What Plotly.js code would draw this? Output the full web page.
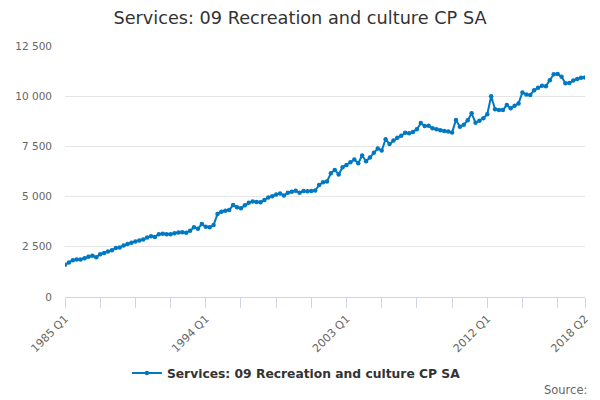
<!DOCTYPE html>
<html>
<head>
<meta charset="utf-8">
<script src="https://cdn.plot.ly/plotly-3.0.1.min.js"></script>
<style>
  html, body { margin: 0; padding: 0; background: #fff; }
  #graph { width: 600px; height: 400px; }
</style>
</head>
<body>
<div id="graph"></div>
<script>
/* ----------------Data---------------- */

var seriesName = 'Services: 09 Recreation and culture CP SA';

// quarterly labels, 1985 Q1 .. 2018 Q2
var quarters = [];
for (var yr = 1985; yr <= 2018; yr++) {
    for (var q = 1; q <= 4; q++) {
        if (yr === 2018 && q > 2) break;
        quarters.push(yr + ' Q' + q);
    }
}

// values, one per quarter
var values = [
    1600, 1720, 1830, 1870, 1870, 1930, 2000, 2060, 1980, 2130,
    2190, 2260, 2330, 2440, 2470, 2560, 2640, 2700, 2770, 2810,
    2860, 2960, 3030, 2990, 3130, 3150, 3130, 3120, 3180, 3210,
    3220, 3200, 3300, 3470, 3400, 3630, 3500, 3470, 3580, 4130,
    4250, 4300, 4330, 4580, 4470, 4420, 4570, 4690, 4750, 4730,
    4720, 4830, 4960, 5020, 5100, 5160, 5050, 5190, 5240, 5290,
    5190, 5280, 5270, 5280, 5300, 5580, 5710, 5750, 6160, 6330,
    6100, 6460, 6570, 6710, 6850, 6660, 7050, 6760, 6950, 7180,
    7400, 7290, 7850, 7620, 7790, 7930, 8030, 8180, 8150, 8220,
    8350, 8660, 8520, 8530, 8400, 8360, 8310, 8270, 8240, 8190,
    8820, 8480, 8580, 8800, 9150, 8680, 8780, 8900, 9100, 10000,
    9350, 9310, 9310, 9560, 9400, 9520, 9640, 10190, 10080, 10060,
    10300, 10420, 10520, 10500, 10800, 11090, 11100, 10970, 10650, 10660,
    10780, 10860, 10920, 10930
];

// tick marks every 9 quarters plus the last one, labels on some of them
var tickPositions = [0, 9, 18, 27, 36, 45, 54, 63, 72, 81, 90, 99, 108, 117, 126, 133];
var labelledTicks = ['1985 Q1', '1994 Q1', '2003 Q1', '2012 Q1', '2018 Q2'];

var yTicks = [0, 2500, 5000, 7500, 10000, 12500];

/* ----------------Graph Setup---------------- */

var blue = 'rgb(0, 121, 194)';
var fontFam = 'DejaVu Sans, Verdana, sans-serif';

var tickVals = tickPositions.map(function(i) { return quarters[i]; });
var tickText = tickVals.map(function(lab) {
    return labelledTicks.indexOf(lab) >= 0 ? lab : '';
});

var trace0 = {
    x: quarters,
    y: values,
    type: 'scatter',
    mode: 'lines+markers',
    name: seriesName,
    line: { color: blue, width: 2 },
    marker: { color: blue, size: 4.5, symbol: 'circle' }
};

var layout = {
    width: 600,
    height: 400,
    paper_bgcolor: '#ffffff',
    plot_bgcolor: '#ffffff',
    separators: '. ',
    font: { family: fontFam, color: '#666666', size: 10 },
    title: {
        text: seriesName,
        font: { family: fontFam, size: 17.7, color: '#333333' },
        x: 0.5,
        xanchor: 'center',
        y: 0.955,
        yanchor: 'middle'
    },
    margin: { l: 65.4, r: 15.4, t: 46, b: 103, autoexpand: false },
    showlegend: true,
    legend: {
        orientation: 'h',
        x: 0.445,
        xanchor: 'center',
        y: -0.303,
        yanchor: 'middle',
        font: { family: fontFam, size: 12.3, color: '#333333', weight: 'bold' },
        bgcolor: 'rgba(0,0,0,0)'
    },
    xaxis: {
        type: 'category',
        range: [0, quarters.length - 1],
        autorange: false,
        tickmode: 'array',
        tickvals: tickVals,
        ticktext: tickText,
        tickangle: -45,
        ticks: 'outside',
        ticklen: 10,
        tickwidth: 1,
        tickcolor: '#ccd6eb',
        showline: true,
        linecolor: '#ccd6eb',
        linewidth: 1,
        showgrid: false,
        zeroline: false,
        tickfont: { family: fontFam, size: 11, color: '#666666' }
    },
    yaxis: {
        range: [0, 12500],
        autorange: false,
        tickmode: 'array',
        tickvals: yTicks,
        tickformat: ',d',
        showgrid: true,
        gridcolor: '#e6e6e6',
        gridwidth: 1,
        zeroline: false,
        showline: false,
        ticks: '',
        ticklabelstandoff: 12,
        tickfont: { family: fontFam, size: 10.5, color: '#666666' }
    },
    annotations: [{
        text: 'Source:',
        xref: 'paper',
        yref: 'paper',
        x: 1.008,
        xanchor: 'right',
        y: -0.37,
        yanchor: 'middle',
        showarrow: false,
        font: { family: fontFam, size: 11.5, color: '#666666' }
    }]
};

var graph = document.getElementById('graph');
Plotly.newPlot(graph, [trace0], layout, { staticPlot: true });
</script>
</body>
</html>
